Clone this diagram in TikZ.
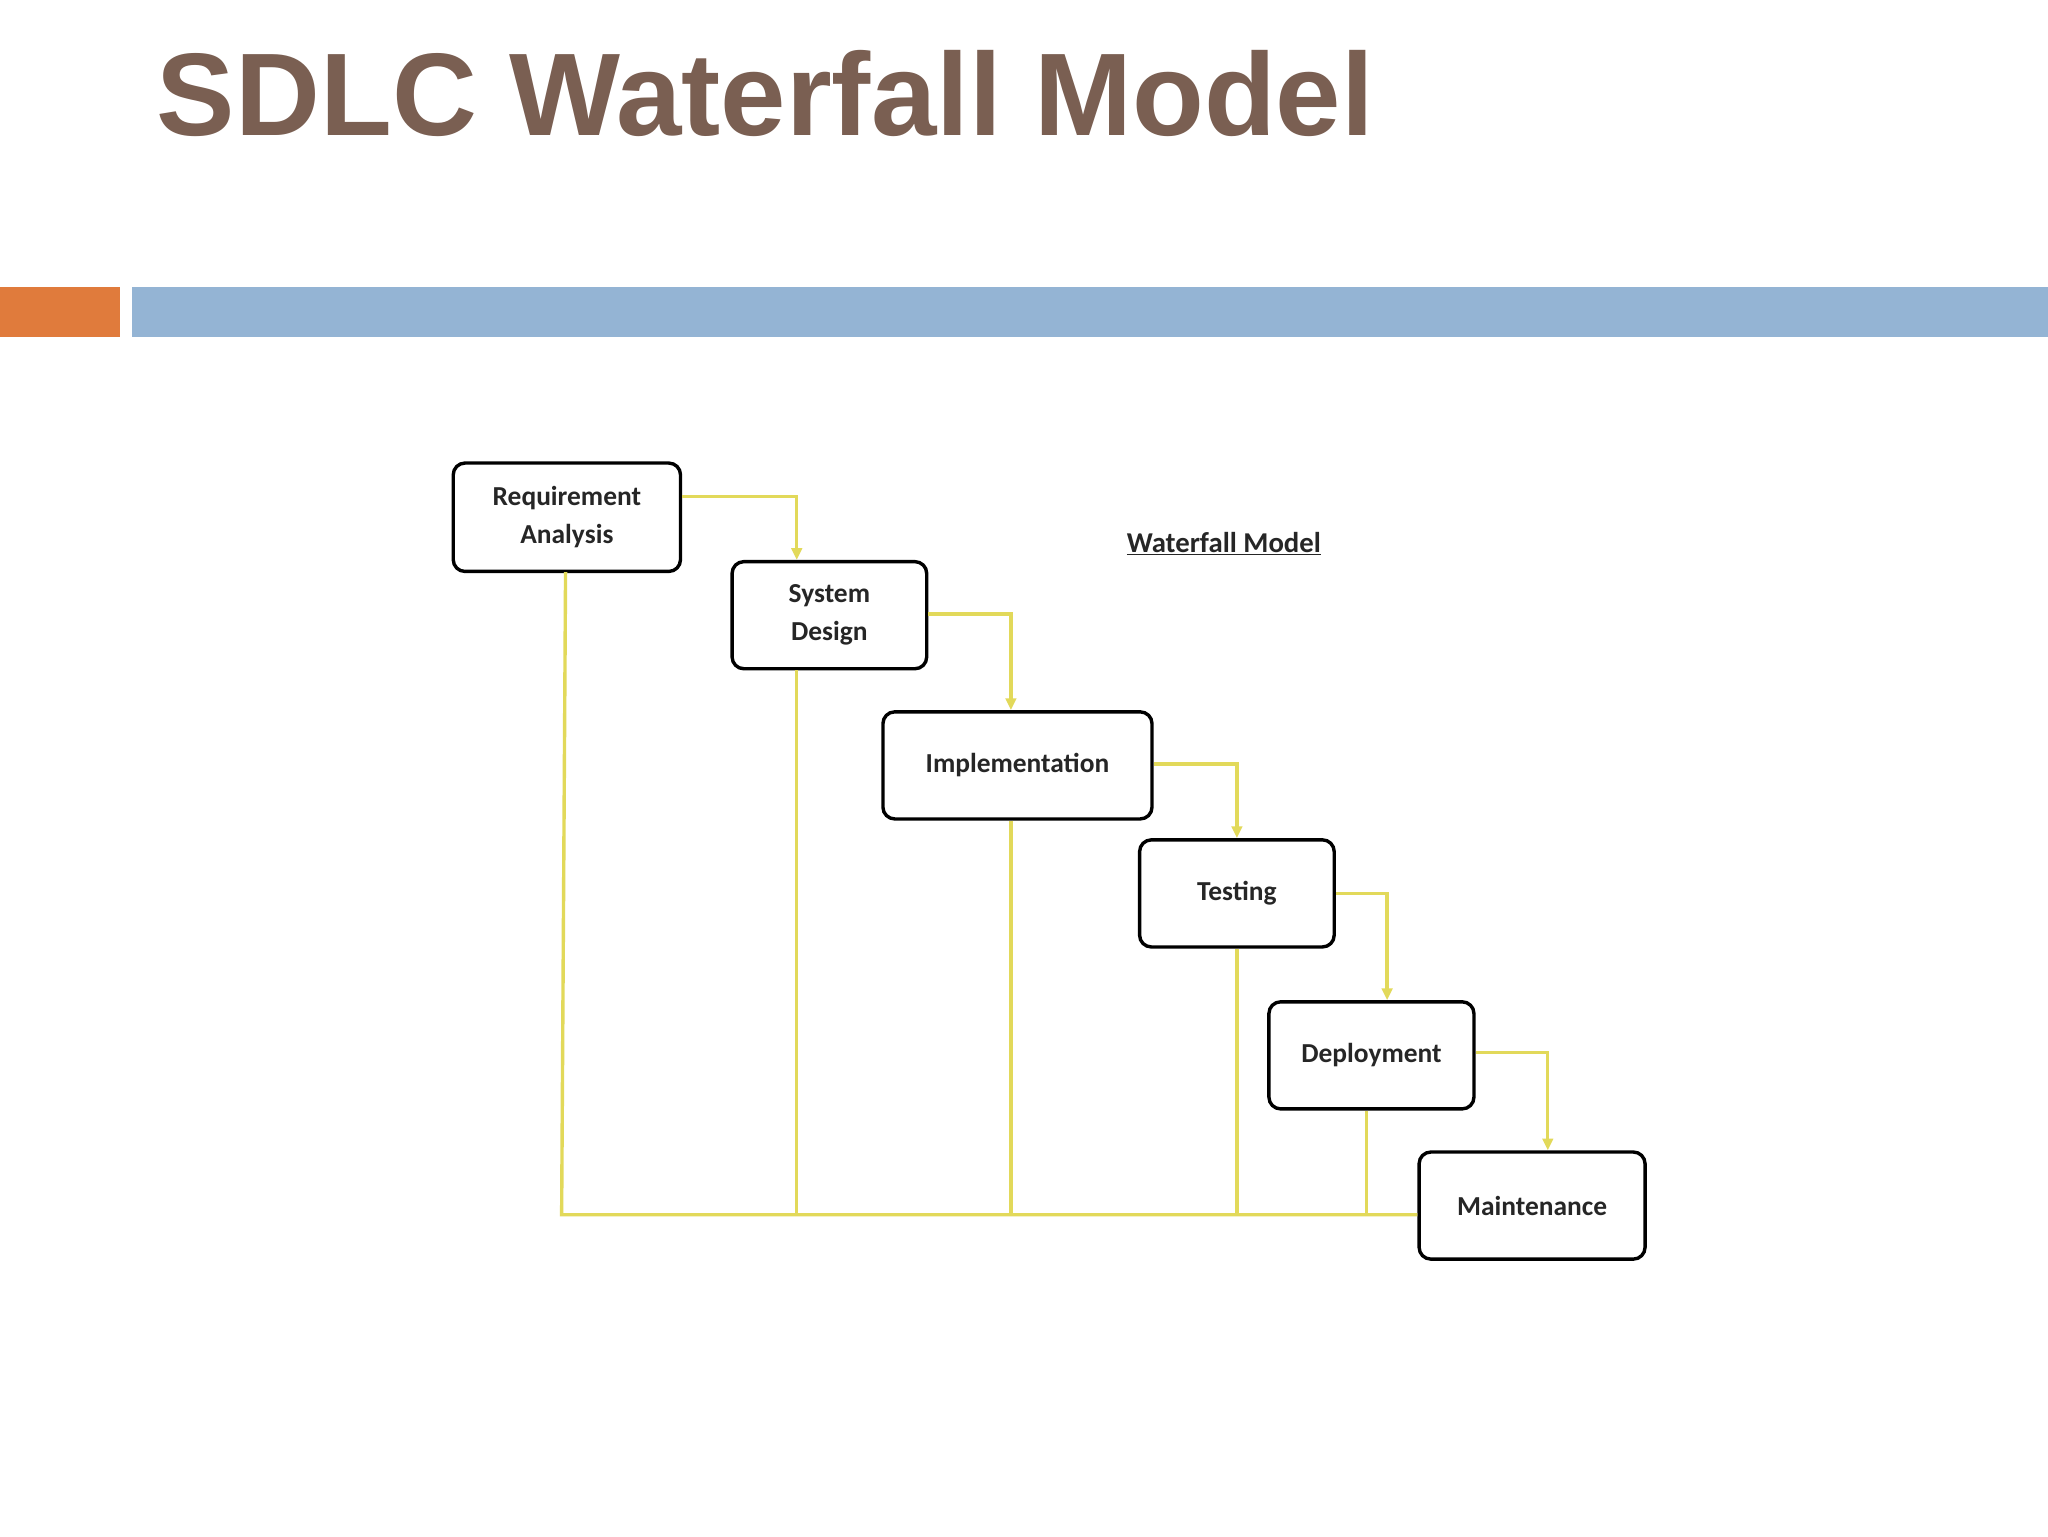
\documentclass[tikz,border=0pt]{standalone}
\usepackage{fontspec}
\setmainfont{Carlito}
\newfontfamily\titlefont{Liberation Sans}
\usetikzlibrary{arrows.meta}
\definecolor{titlebrown}{HTML}{7A5F52}
\definecolor{barorange}{HTML}{E07B3C}
\definecolor{barblue}{HTML}{94B4D4}
\definecolor{flowyellow}{HTML}{E2D95A}
\tikzset{
  phase/.style={draw=black, line width=2.6pt, rounded corners=9pt, fill=white, align=center, font=\fontsize{21}{29}\selectfont\bfseries, text=black!85, inner sep=0pt},
  flow/.style={draw=flowyellow, line width=2.6pt},
  flowarr/.style={flow, -{Triangle[length=9pt,width=8pt]}}
}
\begin{document}
\begin{tikzpicture}[x=1pt,y=-1pt]
\useasboundingbox (0,0) rectangle (1568,1176);
\fill[white] (0,0) rectangle (1568,1176);
\node[anchor=base west, inner sep=0, text=titlebrown, font=\titlefont\fontsize{90}{100}\selectfont\bfseries] (title) at (120,104) {SDLC Waterfall Model};
\fill[barorange] (0,220) rectangle (92,258);
\fill[barblue] (101,220) rectangle (1568,258);

\node[phase, minimum width=174pt, minimum height=83pt] (req) at (434,396) {Requirement\\Analysis};
\node[phase, minimum width=149pt, minimum height=82pt] (sys) at (635,471) {System\\Design};
\node[phase, minimum width=206pt, minimum height=82pt] (imp) at (779,586) {Implementation};
\node[phase, minimum width=149pt, minimum height=82pt] (tst) at (947,684) {Testing};
\node[phase, minimum width=157pt, minimum height=82pt] (dep) at (1050,808) {Deployment};
\node[phase, minimum width=173pt, minimum height=82pt] (mnt) at (1173,923) {Maintenance};
\node[font=\fontsize{22}{26}\selectfont\bfseries, text=black!85] (lbl) at (937,416) {\underline{Waterfall Model}};

% forward arrows
\coordinate (a1) at (610,380); \coordinate (a2) at (774,470);
\coordinate (a3) at (947,585); \coordinate (a4) at (1062,684);
\coordinate (a5) at (1185,806);
\draw[flowarr] (req.east |- a1) -- (a1) -- (a1 |- sys.north);
\draw[flowarr] (sys.east |- a2) -- (a2) -- (a2 |- imp.north);
\draw[flowarr] (imp.east |- a3) -- (a3) -- (a3 |- tst.north);
\draw[flowarr] (tst.east |- a4) -- (a4) -- (a4 |- dep.north);
\draw[flowarr] (dep.east |- a5) -- (a5) -- (a5 |- mnt.north);

% feedback lines
\coordinate (b0) at (430,930);
\draw[flow] (433,438) -- (b0) -- (mnt.west |- b0);
\coordinate (r0) at (433,438);
\coordinate (bs) at (610,930); \coordinate (bi) at (774,930);
\coordinate (bt) at (947,930); \coordinate (bd) at (1046,930);
\draw[flow] (bs |- sys.south) -- (bs);
\draw[flow] (bi |- imp.south) -- (bi);
\draw[flow] (bt |- tst.south) -- (bt);
\draw[flow] (bd |- dep.south) -- (bd);
\end{tikzpicture}
\end{document}
